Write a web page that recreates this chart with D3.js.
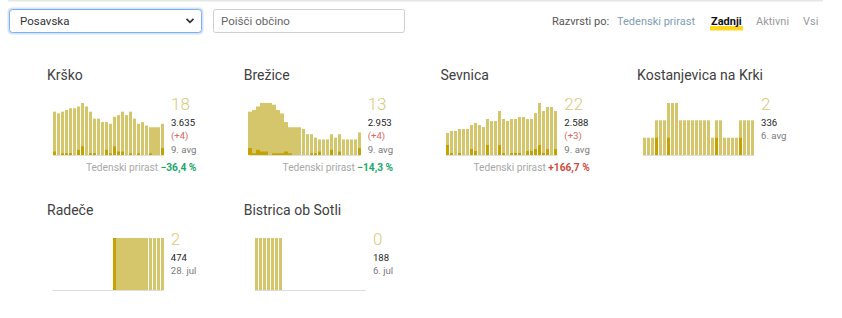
<!DOCTYPE html>
<html>
<head>
<meta charset="utf-8">
<script src="https://cdn.jsdelivr.net/npm/d3@7"></script>
<style>
  body { margin: 0; background: #fff; }
  svg { display: block; font-family: Roboto, "Noto Sans", sans-serif; }
</style>
</head>
<body>
<svg id="chart" width="842" height="318"></svg>
<script>
// ---------------- DATA ----------------
const days = ["13. jul","14. jul","15. jul","16. jul","17. jul","18. jul","19. jul","20. jul","21. jul","22. jul",
  "23. jul","24. jul","25. jul","26. jul","27. jul","28. jul","29. jul","30. jul","31. jul",
  "1. avg","2. avg","3. avg","4. avg","5. avg","6. avg","7. avg","8. avg","9. avg"];

const municipalities = ["Krško", "Brežice", "Sevnica", "Kostanjevica na Krki", "Radeče", "Bistrica ob Sotli"];

// active cases per day
const activeKrsko   = [25,24,25,26,27,27,28,30,28,25,21,21,19,19,18,22,23,25,23,25,21,18,19,17,16,16,16,18];
const activeBrezice = [25,26,28,30,30,30,29,26,24,19,16,16,16,15,12,12,10,9,9,9,12,10,12,9,9,9,9,13];
const activeSevnica = [11,12,12,13,13,13,15,16,15,14,18,17,17,22,18,17,18,18,19,19,18,18,21,26,22,24,24,22];
const activeKostanjevica = [1,1,1,2,2,2,3,3,3,2,2,2,2,2,2,2,2,1,2,2,1,1,1,1,2,2,2,2];
const activeRadece  = [0,0,0,0,0,0,0,0,0,0,0,0,0,0,0,2,2,2,2,2,2,2,2,2,2,2,2,2];
const activeBistrica = [1,1,1,1,1,1,1,0,0,0,0,0,0,0,0,0,0,0,0,0,0,0,0,0,0,0,0,0];

// new cases per day
const newKrsko   = [2,0,1,1,1,0,3,5,0,1,1,0,0,3,1,5,2,2,0,1,0,1,0,0,1,0,0,4];
const newBrezice = [4,1,3,2,2,0,1,1,1,2,1,0,0,0,0,1,1,2,0,0,3,0,2,0,0,0,0,4];
const newSevnica = [5,1,0,1,0,0,3,2,0,0,5,0,0,5,1,0,1,1,1,0,2,2,3,5,1,3,0,3];
const newKostanjevica = [0,0,0,1,0,0,1,0,0,0,0,0,0,0,0,0,0,0,1,0,0,0,0,0,1,0,0,0];
const newRadece  = [0,0,0,0,0,0,0,0,0,0,0,0,0,0,0,2,0,0,0,0,0,0,0,0,0,0,0,0];
const newBistrica = [0,0,0,0,0,0,0,0,0,0,0,0,0,0,0,0,0,0,0,0,0,0,0,0,0,0,0,0];

// days without a data update (1 = no update)
const noUpdateKrsko   = [0,0,0,0,0,0,0,0,0,0,0,0,0,0,0,0,0,0,0,0,0,0,0,0,0,1,1,0];
const noUpdateBrezice = [1,1,1,1,1,1,1,1,1,1,1,1,1,0,0,0,0,0,0,0,0,0,0,0,0,0,0,0];
const noUpdateSevnica = [0,0,0,0,0,0,0,0,0,0,0,0,0,0,0,0,0,0,0,0,0,0,0,0,0,0,0,0];
const noUpdateKostanjevica = [0,0,0,0,0,0,0,0,0,0,0,0,0,0,0,0,0,0,0,0,0,0,0,0,0,0,0,0];
const noUpdateRadece  = [0,0,0,0,0,0,0,0,0,0,0,0,0,0,0,0,1,1,1,1,1,1,1,1,0,0,0,0];
const noUpdateBistrica = [0,0,0,0,0,0,0,0,0,0,0,0,0,0,0,0,0,0,0,0,0,0,0,0,0,0,0,0];

const totals = [3635, 2953, 2588, 336, 474, 188];
const lastCaseDates = ["9. avg", "9. avg", "9. avg", "6. avg", "28. jul", "6. jul"];
const weeklyGrowth = [-36.4, -14.3, 166.7, null, null, null];

const sortLabel = "Razvrsti po:";
const sortOptions = ["Tedenski prirast", "Zadnji", "Aktivni", "Vsi"];
const regionSelected = "Posavska";
const searchPlaceholder = "Poišči občino";
const growthLabel = "Tedenski prirast";

// ---------------- RENDER ----------------
const svg = d3.select("#chart");
const loc = d3.formatLocale({decimal: ",", thousands: ".", grouping: [3], currency: ["", ""]});
const fmtInt = loc.format(",d");
const fmtPct = v => (v < 0 ? "\u2212" : "+") + loc.format(".1f")(Math.abs(v)) + " %";

const C = {
  light: "#d6c66b", dark: "#c2a300", big: "#d9ca7c",
  title: "#404040", total: "#1e1e1e", plus: "#d96a62", date: "#7a7a7a",
  growthLabel: "#a8a8a8", green: "#1aa86a", red: "#cf4a40", axis: "#dddddd"
};
const small = 9.6;

// top border
svg.append("rect").attr("x", 8).attr("y", 0).attr("width", 815).attr("height", 1.5).attr("fill", "#e6e6e6");

// select box
svg.append("rect").attr("x", 9).attr("y", 9).attr("width", 193).attr("height", 24).attr("rx", 3)
  .attr("fill", "none").attr("stroke", "rgba(128,176,240,0.35)").attr("stroke-width", 3);
svg.append("rect").attr("x", 9.5).attr("y", 9.5).attr("width", 192).attr("height", 23).attr("rx", 3)
  .attr("fill", "#fff").attr("stroke", "#7eb0ee").attr("stroke-width", 1);
svg.append("text").attr("x", 20).attr("y", 25).attr("font-size", 11.5).attr("fill", "#333").text(regionSelected);
svg.append("path").attr("d", "M186.5,18.8 L190,22.3 L193.5,18.8").attr("fill", "none")
  .attr("stroke", "#333").attr("stroke-width", 1.8);

// search input
svg.append("rect").attr("x", 213.5).attr("y", 9.5).attr("width", 191).attr("height", 23).attr("rx", 2)
  .attr("fill", "#fff").attr("stroke", "#cfcfcf").attr("stroke-width", 1);
svg.append("text").attr("x", 221).attr("y", 25).attr("font-size", 11.5).attr("fill", "#666").text(searchPlaceholder);

// sort controls
const sortX = [552, 617, 711, 756, 803];
svg.append("text").attr("x", sortX[0]).attr("y", 24.5).attr("font-size", 11).attr("fill", "#555").text(sortLabel);
sortOptions.forEach((o, i) => {
  const active = o === "Zadnji";
  if (active) {
    svg.append("rect").attr("x", sortX[i + 1] - 1).attr("y", 26).attr("width", 33).attr("height", 4.5).attr("fill", "#ffd81f");
  }
  svg.append("text").attr("x", sortX[i + 1]).attr("y", 24.5).attr("font-size", 11)
    .attr("font-weight", active ? 700 : 400)
    .attr("fill", active ? "#111" : (i === 0 ? "#7f9db4" : "#9a9a9a")).text(o);
});

// cards
const activeSeries = [activeKrsko, activeBrezice, activeSevnica, activeKostanjevica, activeRadece, activeBistrica];
const newSeries = [newKrsko, newBrezice, newSevnica, newKostanjevica, newRadece, newBistrica];
const flagSeries = [noUpdateKrsko, noUpdateBrezice, noUpdateSevnica, noUpdateKostanjevica, noUpdateRadece, noUpdateBistrica];

const colPitch = 196.7, rowPitch = 135;
const chartW = 111.3, chartH = 52, textGap = 7;

municipalities.forEach((name, i) => {
  const col = i % 4, row = Math.floor(i / 4);
  const titleX = 47 + col * colPitch;
  const right = 196.4 + col * colPitch;
  const dy = row * rowPitch;
  const base = 155 + dy;
  const act = activeSeries[i], nw = newSeries[i], fl = flagSeries[i];
  const g = svg.append("g");

  g.append("text").attr("x", titleX).attr("y", 80 + dy).attr("font-size", 14).attr("fill", C.title).text(name);

  // right text column
  const lastNew = nw[nw.length - 1];
  const tg = g.append("g");
  const lines = [];
  lines.push(tg.append("text").attr("y", 110 + dy).attr("font-size", 17).attr("font-weight", 300)
    .attr("fill", C.big).text(act[act.length - 1]));
  lines.push(tg.append("text").attr("y", 126 + dy).attr("font-size", small).attr("fill", C.total).text(fmtInt(totals[i])));
  let yy = 139.3 + dy;
  if (lastNew > 0) {
    lines.push(tg.append("text").attr("y", yy).attr("font-size", small).attr("fill", C.plus).text("(+" + lastNew + ")"));
    yy += 13.4;
  }
  lines.push(tg.append("text").attr("y", yy).attr("font-size", small).attr("fill", C.date).text(lastCaseDates[i]));
  const colW = d3.max(lines, t => t.node().getComputedTextLength());
  const numX = right - colW;
  lines.forEach(t => t.attr("x", numX));

  // chart
  const x1 = numX - textGap, x0 = x1 - chartW;
  const xs = d3.scaleBand().domain(days).range([x0, x1]).paddingInner(0.25).paddingOuter(0);
  const ys = d3.scaleLinear().domain([0, d3.max(act)]).range([base, base - chartH]);
  const gap = xs.step() - xs.bandwidth();

  g.append("line").attr("x1", x0).attr("x2", x1).attr("y1", base + 0.5).attr("y2", base + 0.5)
    .attr("stroke", C.axis).attr("stroke-width", 1);

  const bars = days.map((d, k) => {
    const l = fl[k] ? xs(d) - gap : xs(d);
    const r = xs(d) + xs.bandwidth();
    return {d, a: act[k], n: nw[k], l: Math.round(l), r: Math.round(r)};
  }).filter(b => b.a > 0);

  g.selectAll("rect.a").data(bars).join("rect").attr("class", "a")
    .attr("x", b => b.l).attr("width", b => b.r - b.l)
    .attr("y", b => ys(b.a)).attr("height", b => base - ys(b.a)).attr("fill", C.light);
  g.selectAll("rect.n").data(bars.filter(b => b.n > 0)).join("rect").attr("class", "n")
    .attr("x", b => b.l).attr("width", b => b.r - b.l)
    .attr("y", b => ys(b.n)).attr("height", b => base - ys(b.n)).attr("fill", C.dark);

  // weekly growth
  if (weeklyGrowth[i] !== null) {
    const gt = g.append("text").attr("x", right).attr("y", 171 + dy).attr("text-anchor", "end").attr("font-size", 10.2);
    gt.append("tspan").attr("fill", C.growthLabel).text(growthLabel + " ");
    gt.append("tspan").attr("fill", weeklyGrowth[i] < 0 ? C.green : C.red).attr("font-weight", 700)
      .text(fmtPct(weeklyGrowth[i]));
  }
});
</script>
</body>
</html>
